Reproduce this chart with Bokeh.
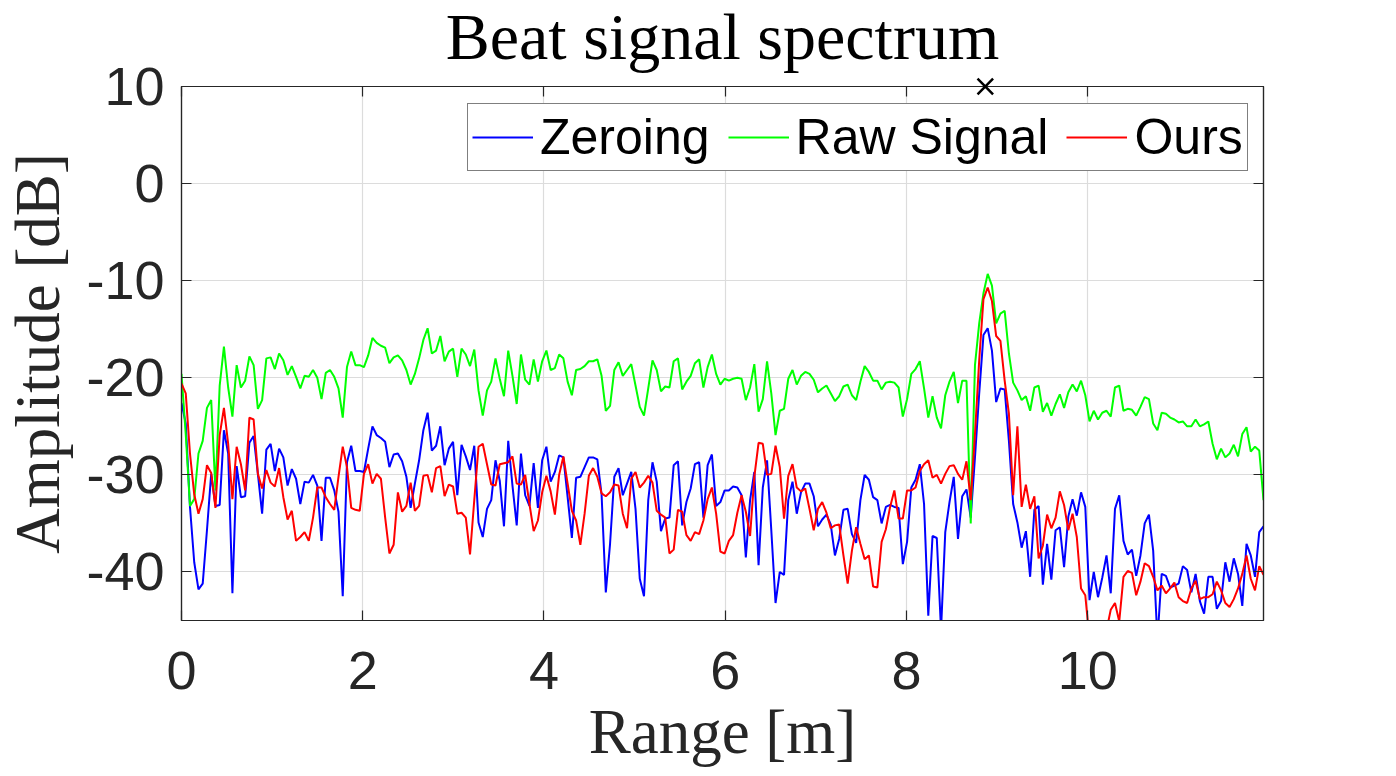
from bokeh.plotting import figure
from bokeh.models import Legend, LegendItem, LinearAxis, FixedTicker, CustomJSTickFormatter, Range1d
from bokeh.core.properties import value
from bokeh.embed import file_html
from bokeh.resources import INLINE
import numpy as np

title_text = "Beat signal spectrum"
xlabel = "Range [m]"
ylabel = "Amplitude [dB]"
x_ticks = [0, 2, 4, 6, 8, 10]
y_ticks = [-40, -30, -20, -10, 0, 10]
y_labels = ["-40", "-30", "-20", "-10", "0", "10"]
x_max = 11.94
peak_x = [8.87]
peak_y = [10]

raw = [-19.6,-25.8,-33.2,-32.5,-27.8,-26.5,-23.1,-22.3,-31.6,-20.8,-16.8,-21,-24,-18.7,-21,-20.3,-17.8,-18.7,-23.2,-22.3,
-18,-17.9,-19.1,-17.5,-18.2,-19.7,-18.8,-19.9,-21.1,-19.8,-19.9,-19.2,-20,-22.2,-19.5,-19.2,-19.9,-21.1,-24.1,-18.9,
-17.3,-18.7,-18.7,-18.9,-17.7,-15.9,-16.4,-16.7,-16.9,-18.5,-17.9,-17.7,-18.2,-19.2,-20.7,-19.6,-18,-16.1,-14.9,-17.5,
-17.2,-15.7,-18.3,-17.3,-17,-19.9,-17,-17.6,-18.8,-17.1,-21.3,-23.9,-21.3,-20.4,-18,-20.1,-21.9,-17.2,-19.8,-22.7,
-17.6,-20.2,-20.7,-18.1,-20.4,-18.3,-17.2,-19.2,-19,-17.6,-18,-20.4,-21.8,-19.2,-19.1,-18.8,-18.3,-18.3,-18.1,-19.8,
-23.4,-22.9,-19.2,-18.4,-19.8,-19.2,-18.6,-20.8,-23,-23.9,-21.1,-18.2,-19.2,-21.4,-20.9,-21,-18.3,-18,-21.2,-20.4,
-19.8,-18.5,-18.1,-21,-18.9,-17.6,-19.6,-20.7,-20.1,-20.3,-20.1,-20,-20.1,-22.3,-21,-18.6,-23.5,-22.2,-18.3,-21.6,
-25.9,-23.4,-23.2,-20.1,-19.2,-20.7,-19.8,-19.4,-19.6,-20.2,-21.5,-21.1,-20.8,-21.6,-22.4,-21.9,-20.9,-20.7,-21.8,-22.3,
-20.4,-18.8,-19.4,-20.3,-20.3,-21.2,-20.5,-20.4,-20.5,-21,-24,-22.2,-19.6,-19.1,-18.3,-21.1,-24.1,-21.9,-24.1,-25.2,
-21.8,-20.4,-19.4,-22.6,-20.3,-20.3,-35,-18.7,-14.4,-11.3,-9.3,-10.5,-14.4,-13.4,-13.1,-17.5,-20.5,-21.3,-22.3,-21.9,
-23.4,-21,-20.8,-23.5,-22.6,-23.9,-22.7,-21.7,-23.1,-21.5,-20.7,-21.4,-20.3,-21.8,-24.5,-23.4,-24.3,-23.6,-23.4,-24,
-21,-20.8,-23.4,-23.2,-23.3,-23.9,-23,-22,-22.2,-24.7,-25.4,-23.6,-23.7,-24.1,-24.3,-24.6,-24.5,-25,-25,-24.3,
-25,-24.8,-24.5,-26.8,-28.4,-27.3,-28.2,-27.8,-26.9,-28.1,-25.8,-25.1,-27.6,-27.1,-27.5,-32.6]

zeroing = [-22.6,-24.7,-33.3,-39,-41.8,-41.2,-35.7,-29.9,-33.2,-33.1,-25.4,-27.8,-42.2,-29.1,-32.3,-32.2,-26.7,-26,-29.9,-34,
-27.4,-26.8,-29.6,-27.3,-28.2,-31.1,-29.4,-30.4,-33,-30.7,-30.8,-30,-31.1,-36.8,-30.3,-30.3,-31.6,-33.8,-42.5,-28.7,
-27,-29.6,-29.6,-29.7,-27.3,-25,-25.9,-26.2,-26.6,-29.2,-27.9,-27.8,-28.6,-30.2,-33.4,-30.9,-28.5,-25.4,-23.6,-27.5,
-27,-25,-29,-27.3,-26.6,-32.1,-26.9,-28.1,-29.5,-27,-34.9,-36.4,-33.5,-32.6,-28.5,-30.6,-35.3,-26.5,-31.1,-35.2,
-27.8,-32.1,-33.2,-28.8,-33.4,-28.5,-27.1,-30.7,-29.7,-28,-28.2,-32.3,-36.5,-30.3,-30.2,-29.2,-28.2,-28.2,-28.4,-32,
-42.1,-37.1,-30.2,-29.3,-32.1,-30.9,-29.7,-33.5,-40.7,-42.5,-32.6,-28.7,-30.7,-35.8,-34.5,-34.4,-29,-28.6,-35.2,-32.8,
-31.4,-28.9,-28.7,-34.4,-29,-27.9,-33.2,-32.8,-31.6,-31.6,-31.2,-31.3,-32.1,-38.5,-32.6,-29.7,-39.3,-31.3,-28.5,-35.7,
-43.2,-40,-40.3,-32.6,-30.7,-34,-31.8,-30.9,-30.9,-32.2,-35.3,-34.6,-34.1,-35.1,-38.3,-36.6,-33.6,-33.5,-36.1,-37,
-32.6,-30,-30.5,-32.3,-32.6,-35,-33.3,-33.1,-33.3,-33.4,-39.2,-36.9,-31.3,-30.5,-28.9,-33,-44.5,-36.3,-36.5,-46,
-35.9,-32.8,-30.2,-36.6,-32.2,-31.5,-34.4,-28.2,-21.6,-15.6,-14.9,-17.2,-22.5,-21.1,-21.2,-26.5,-33,-34.9,-37.5,-35.8,
-40.5,-33.6,-33.2,-41.3,-37.1,-40.8,-35.7,-35.4,-39.5,-34.3,-32.5,-34.2,-31.8,-33.3,-42.9,-40,-42.6,-40.6,-38.3,-42.2,
-33.5,-32.1,-36.8,-38.2,-37.7,-40.4,-38.3,-35,-34.1,-37.8,-47,-40.2,-40.4,-41.6,-41.4,-41.2,-39.4,-39.8,-42.1,-40.2,
-43,-44.3,-40.5,-40.5,-43.8,-43,-39,-41,-38.6,-40.2,-43.5,-37.1,-38.3,-40.5,-35.9,-35.3]

ours = [-20.6,-21.6,-27.8,-32,-34,-32.5,-29,-29.8,-33.4,-25.9,-23.1,-26.8,-32.5,-27.1,-28.9,-31.6,-24.1,-24.3,-29.9,-31.4,
-29.5,-30.8,-31.2,-29.3,-32.3,-34.6,-33.7,-36.8,-36.4,-35.9,-36.8,-34.4,-31.3,-31.3,-32.3,-33,-33.6,-30.2,-27.1,-29.2,
-33.4,-33.6,-33.7,-29.9,-28.9,-30.9,-29.9,-30.4,-34.4,-38.1,-37.2,-31.8,-33.8,-33.2,-30.8,-33.7,-33.2,-30.1,-30,-31.8,
-29.3,-29.1,-32.2,-31,-31.2,-34,-33.9,-34.4,-38.2,-32.6,-27.1,-26.8,-28.9,-31,-31.1,-28.9,-28.8,-28.7,-28.1,-30.9,
-31,-30,-33,-35.8,-34.7,-31.8,-30.1,-31.7,-34.1,-30,-28.1,-30.9,-33.7,-34.7,-37.2,-34,-30.1,-29.3,-30.2,-31.9,
-32.2,-31.8,-31,-31.1,-34,-35.5,-30.4,-29.7,-31.3,-30.8,-30.1,-30.8,-33.7,-34.1,-34.4,-38.1,-37.7,-33.6,-33.8,-36.2,
-36.8,-35.9,-36.1,-34.7,-32.5,-31.3,-34,-37.9,-38.1,-36.8,-36.2,-33.9,-32.1,-33.8,-36.3,-30.2,-26.7,-26.8,-30,-29.9,
-27,-29.2,-34.5,-30.1,-28.9,-31.3,-31.7,-31.4,-33.5,-35.7,-33.5,-32.8,-33.9,-35.5,-35.2,-35.1,-38.3,-41.2,-37.8,-35.4,
-37.1,-38.7,-38.3,-41.5,-41.6,-36.9,-35.6,-33.3,-31.6,-34.5,-34.5,-31.6,-31.6,-31.3,-29.6,-28.9,-28.5,-30.3,-30,-30.9,
-29.9,-29.1,-29,-29.9,-30.5,-28.6,-32.6,-25.8,-18.2,-11.9,-10.7,-12.1,-15.7,-16.2,-20.3,-23.7,-32.1,-25,-33.3,-31,
-33.5,-32.2,-38.6,-37.3,-34.1,-35.5,-34.4,-31.7,-33.1,-35.7,-34,-36.4,-41.7,-42.4,-47,-48,-48,-47,-46,-43.9,
-43.2,-45.1,-40.5,-39.9,-40.1,-42.4,-41,-39.1,-39.4,-40.5,-41.9,-41.4,-42.2,-41.7,-41.1,-42.6,-43,-43.2,-41.7,-40.9,
-42.8,-42.6,-42.6,-42.3,-41,-41.9,-43.2,-43.6,-42.8,-41.7,-40.2,-38.3,-40.7,-41.9,-39.4,-40.3]

rng = np.arange(len(raw)) * x_max / (len(raw) - 1)

DARK = "#262626"
GRID = "#dcdcdc"

p = figure(width=1390, height=772, output_backend="svg", toolbar_location=None,
           x_range=Range1d(0, x_max), y_range=Range1d(-45, 10),
           min_border_left=181, min_border_right=127, min_border_top=86, min_border_bottom=152,
           background_fill_color="white", border_fill_color="white")

p.text(x=[x_max / 2], y=[15.15], text=[title_text], text_align="center", text_baseline="alphabetic",
       text_font=value("Liberation Serif"), text_font_size="66px", text_color="black", level="overlay")

xa = p.xaxis[0]
ya = p.yaxis[0]
xa.ticker = FixedTicker(ticks=x_ticks)
ya.ticker = FixedTicker(ticks=y_ticks)
ya.major_label_overrides = {t: s for t, s in zip(y_ticks, y_labels)}
xa.axis_label = xlabel
ya.axis_label = ylabel
for a in (xa, ya):
    a.axis_label_text_font = "Liberation Serif"
    a.axis_label_text_font_style = "normal"
    a.axis_label_text_font_size = "63px"
    a.axis_label_text_color = DARK
    a.major_label_text_font = "Liberation Sans"
    a.major_label_text_font_size = "54px"
    a.major_label_text_color = DARK
    a.major_tick_in = 10
    a.major_tick_out = 0
    a.minor_tick_line_color = None
    a.major_tick_line_color = DARK
    a.major_tick_line_width = 1.2
    a.axis_line_color = DARK
    a.axis_line_width = 1.2
xa.major_label_standoff = 31
ya.major_label_standoff = 17
xa.axis_label_standoff = 5
ya.axis_label_standoff = 10

blank = CustomJSTickFormatter(code="return ''")
for side, ticks in (("right", y_ticks), ("above", x_ticks)):
    ax = LinearAxis(ticker=FixedTicker(ticks=ticks), formatter=blank)
    ax.major_tick_in = 10
    ax.major_tick_out = 0
    ax.minor_tick_line_color = None
    ax.major_tick_line_color = DARK
    ax.major_tick_line_width = 1.2
    ax.axis_line_color = DARK
    ax.axis_line_width = 1.2
    ax.major_label_standoff = 0
    ax.major_label_text_font_size = "1px"
    p.add_layout(ax, side)

p.grid.grid_line_color = GRID
p.grid.grid_line_width = 1.2
p.xgrid.ticker = FixedTicker(ticks=x_ticks)
p.ygrid.ticker = FixedTicker(ticks=y_ticks)
p.outline_line_color = DARK
p.outline_line_width = 1.2

r_z = p.line(rng, zeroing, line_color="#0000ff", line_width=2)
r_r = p.line(rng, raw, line_color="#00ff00", line_width=2)
r_o = p.line(rng, ours, line_color="#ff0000", line_width=2)
p.scatter(peak_x, peak_y, marker="x", size=22, line_color="black", line_width=2.5, level="overlay")

legend = Legend(items=[LegendItem(label="Zeroing", renderers=[r_z]),
                       LegendItem(label="Raw Signal", renderers=[r_r]),
                       LegendItem(label="Ours", renderers=[r_o])],
                orientation="horizontal", location=(286, 449))
legend.label_text_font = "Liberation Sans"
legend.label_text_font_size = "50px"
legend.label_text_color = "black"
legend.glyph_width = 61
legend.glyph_height = 46
legend.label_standoff = 7
legend.spacing = 18
legend.padding = 4
legend.margin = 0
legend.border_line_color = "black"
legend.border_line_width = 1.3
legend.background_fill_color = "white"
legend.background_fill_alpha = 1
p.add_layout(legend, "center")

open("out.html", "w").write(file_html(p, INLINE))
